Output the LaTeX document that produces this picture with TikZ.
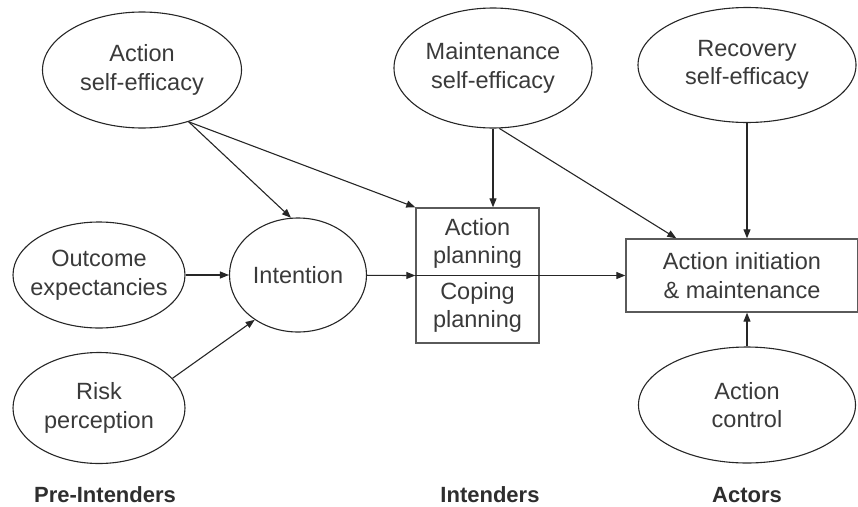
\documentclass[tikz,border=0pt]{standalone}
\usepackage{fontspec}
\setmainfont{Liberation Sans}
\usetikzlibrary{positioning, shapes.geometric, arrows.meta}
\definecolor{hapaText}{HTML}{3A3A3A}
\definecolor{hapaLine}{HTML}{262626}
\definecolor{hapaFrame}{HTML}{5A5A5A}

\begin{document}
\begin{tikzpicture}[x=1pt, y=-1pt,
		construct/.style={draw=hapaLine, ellipse, line width=1.1pt, inner sep=-14pt,
			align=center, text=hapaText, font=\fontsize{23.5}{28.5}\selectfont},
		stagebox/.style={draw=hapaFrame, rectangle, line width=1.4pt, inner sep=0pt,
			align=center, text=hapaText, font=\fontsize{23.5}{28.5}\selectfont},
		link/.style={draw=hapaLine, line width=1.1pt, -{Triangle[length=9pt, width=7pt]}},
		stage/.style={anchor=base, text=hapaText!80!black, font=\bfseries\fontsize{22}{26}\selectfont}]
	\useasboundingbox (0,0) rectangle (858,506);
	\node[construct, minimum width=199pt, minimum height=116pt] (aself) at (142,70) {Action\\self-efficacy};
	\node[construct, minimum width=198pt, minimum height=120pt] (mself) at (493,68) {Maintenance\\self-efficacy};
	\node[construct, minimum width=218pt, minimum height=115pt] (rself) at (747,65) {Recovery\\self-efficacy};
	\node[construct, minimum width=172pt, minimum height=106pt] (outcome) at (99,275) {Outcome\\expectancies};
	\node[construct, minimum width=137pt, minimum height=114pt] (intent) at (298,275) {Intention};
	\node[construct, minimum width=172pt, minimum height=111pt] (risk) at (99,408) {Risk\\perception};
	\node[construct, minimum width=217pt, minimum height=116pt] (control) at (747,405) {Action\\control};
	\node[stagebox, minimum width=123pt, minimum height=135pt] (plan) at (477.5,275.5)
		{Action\\planning\\[7pt]Coping\\planning};
	\node[stagebox, minimum width=232pt, minimum height=73pt] (act) at (742,275.5)
		{Action initiation\\\& maintenance};

	\draw[link] (aself.-48) -- (intent.97);
	\draw[link] (aself.-48) -- (plan.north west);
	\draw[link] (mself.south) -- (mself.south |- plan.north);
	\draw[link] (mself.-84) -- ([xshift=51pt]act.north west);
	\draw[link] (rself.south) -- (rself.south |- act.north);
	\draw[link] (control.north) -- (control.north |- act.south);
	\draw[link] (outcome) -- (intent);
	\draw[link] (risk.22) -- (intent.226);
	\draw[link] (intent) -- (plan.west);
	\draw[link] (plan.west) -- (act.west);

	\node[stage] (pre) at (105,502) {Pre-Intenders};
	\node[stage] (intenders) at (490,502) {Intenders};
	\node[stage] (actors) at (747,502) {Actors};
\end{tikzpicture}
\end{document}
